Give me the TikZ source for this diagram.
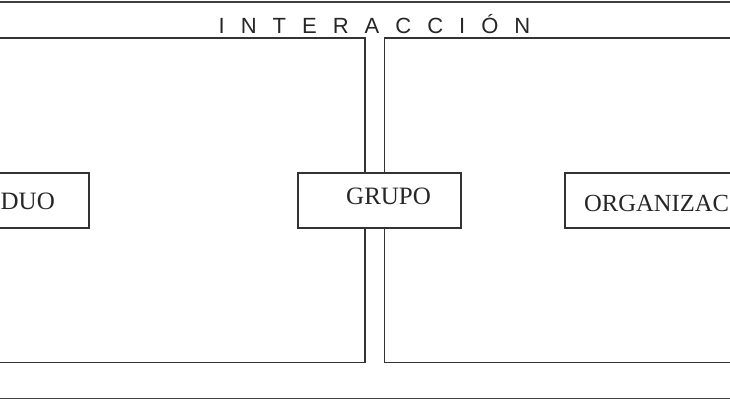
\documentclass[tikz,border=0pt]{standalone}
\usepackage{fontspec}
\setmainfont{Liberation Serif}
\newfontfamily\arialfont{Liberation Sans}
\begin{document}
\begin{tikzpicture}[x=1pt,y=-1pt,
  frameline/.style={draw=black!75,line width=1.6pt},
  boxline/.style={draw=black!80,line width=1.1pt},
  labelbox/.style={draw=black!80,line width=1.1pt,fill=white},
  lbl/.style={inner sep=0pt,anchor=base west,font=\fontsize{25}{25}\selectfont,text=black!85}]
\useasboundingbox (0,0) rectangle (730,400);
\clip (0,0) rectangle (730,400);
% outer frame
\draw[frameline] (-10,2) rectangle (740,398.5);
% inner areas
\draw[boxline] (-10,38) -- (365,38) -- (365,362.5) -- (-10,362.5);
\draw[boxline] (740,38) -- (384.5,38) -- (384.5,362.5) -- (740,362.5);
% title
\node[inner sep=0pt,text=black!85,font=\arialfont\fontsize{22}{22}\selectfont,anchor=base] (title) at (374.5,33)
  {I\hskip16pt N\hskip16pt T\hskip16pt E\hskip16pt R\hskip16pt A\hskip16pt C\hskip16pt C\hskip16pt I\hskip16pt Ó\hskip16pt N};
% boxes
\draw[labelbox] (-115,173) rectangle (89,228);
\draw[labelbox] (298,173) rectangle (461,228);
\draw[labelbox] (565,173) rectangle (800,228);
\node[lbl] (indiv) at (0.5,209) {DUO};
\node[lbl] (grupo) at (346,204) {GRUPO};
\node[lbl,font=\fontsize{24.6}{25}\selectfont] (org) at (584,211.5) {ORGANIZAC};
\end{tikzpicture}
\end{document}
